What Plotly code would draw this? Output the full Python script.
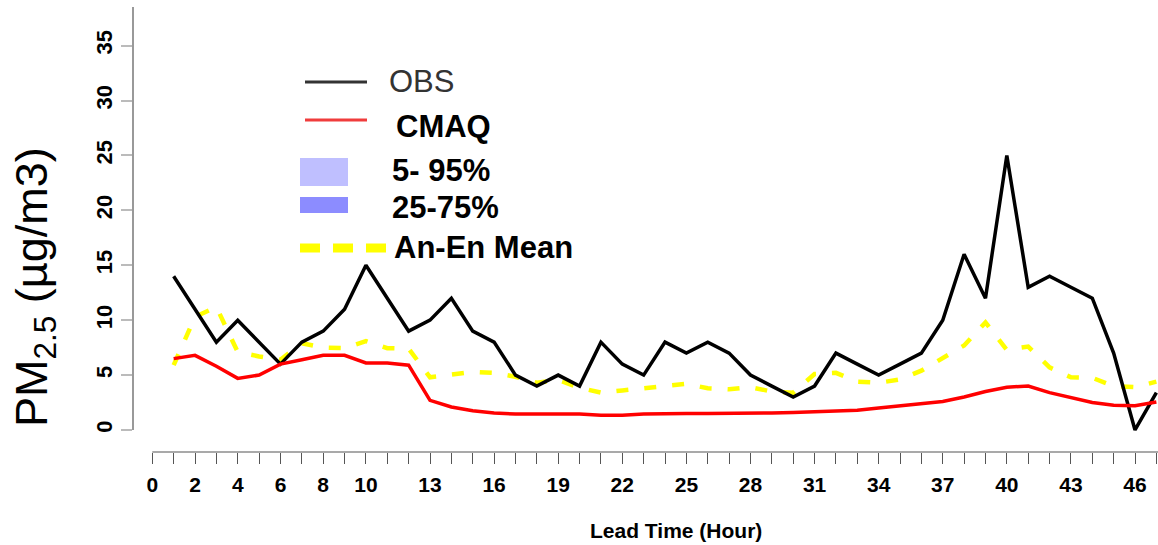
import plotly.graph_objects as go

# ---- data -------------------------------------------------------------
hours = list(range(1, 48))

obs = [14, 11, 8, 10, 8, 6, 8, 9, 11, 15, 12, 9, 10, 12, 9, 8, 5, 4, 5, 4,
       8, 6, 5, 8, 7, 8, 7, 5, 4, 3, 4, 7, 6, 5, 6, 7, 10, 16, 12, 25,
       13, 14, 13, 12, 7, 0, 3.4]

cmaq = [6.5, 6.8, 5.8, 4.7, 5.0, 6.0, 6.4, 6.8, 6.8, 6.1, 6.1, 5.9, 2.7, 2.1,
        1.75, 1.55, 1.45, 1.45, 1.45, 1.45, 1.35, 1.35, 1.45, 1.5, 1.5, 1.5,
        1.5, 1.5, 1.55, 1.6, 1.65, 1.7, 1.8, 2.0, 2.2, 2.4, 2.6, 3.0, 3.5,
        3.9, 4.0, 3.4, 2.95, 2.5, 2.25, 2.2, 2.55]

anen_mean = [5.9, 10.3, 11.2, 7.1, 6.7, 6.4, 7.9, 7.5, 7.45, 8.1, 7.45, 7.4,
             4.8, 5.05, 5.3, 5.2, 4.85, 4.3, 4.55, 3.85, 3.4, 3.6, 3.8, 4.05,
             4.2, 3.8, 3.7, 3.9, 3.5, 3.4, 5.1, 5.2, 4.4, 4.3, 4.6, 5.4, 6.6,
             7.7, 9.8, 7.3, 7.6, 5.7, 4.8, 4.75, 4.0, 3.9, 4.4]

x_minor_ticks = list(range(0, 48))
x_tick_labeled = [0, 2, 4, 6, 8, 10, 13, 16, 19, 22, 25, 28, 31, 34, 37, 40, 43, 46]
y_tick_vals = [0, 5, 10, 15, 20, 25, 30, 35]

legend_labels = ["OBS", "CMAQ", "5- 95%", "25-75%", "An-En Mean"]

# ---- geometry ---------------------------------------------------------
W, H = 1158, 545
ML, MR, MT, MB = 133, 0, 7, 93
X_RANGE = [-0.903, 47.076]
Y_RANGE = [-2.004, 38.52]
FONT = "Liberation Sans, Arial, sans-serif"


def px(x):
    """pixel column -> paper x"""
    return (x - ML) / (W - ML - MR)


def py(y):
    """pixel row -> paper y"""
    return (H - MB - y) / (H - MT - MB)


fig = go.Figure()

fig.add_trace(go.Scatter(x=hours, y=anen_mean, mode="lines", name="An-En Mean",
                         line=dict(color="#FFFF00", width=4.5, dash="12px,16px")))
fig.add_trace(go.Scatter(x=hours, y=obs, mode="lines", name="OBS",
                         line=dict(color="#000000", width=3.5)))
fig.add_trace(go.Scatter(x=hours, y=cmaq, mode="lines", name="CMAQ",
                         line=dict(color="#FF0000", width=3.5)))

shapes = [
    # detached axis lines
    dict(type="line", xref="paper", yref="y", x0=0, x1=0, y0=0, y1=Y_RANGE[1],
         line=dict(color="#777777", width=1.5)),
    dict(type="line", xref="x", yref="paper", x0=0, x1=X_RANGE[1], y0=0, y1=0,
         line=dict(color="#555555", width=1.2)),
    # legend keys
    dict(type="line", xref="paper", yref="paper", x0=px(305), x1=px(367),
         y0=py(82), y1=py(82), line=dict(color="#333333", width=3)),
    dict(type="line", xref="paper", yref="paper", x0=px(305), x1=px(367),
         y0=py(120), y1=py(120), line=dict(color="#F03C3C", width=3)),
    dict(type="rect", xref="paper", yref="paper", x0=px(300), x1=px(348),
         y0=py(186), y1=py(158), fillcolor="#BFBFFF", line=dict(width=0)),
    dict(type="rect", xref="paper", yref="paper", x0=px(300), x1=px(348),
         y0=py(213), y1=py(197), fillcolor="#8C8CFF", line=dict(width=0)),
    dict(type="line", xref="paper", yref="paper", x0=px(300), x1=px(386),
         y0=py(248), y1=py(248),
         line=dict(color="#FFFF00", width=9, dash="20px,13px")),
]

legend_rows = [  # label, left px, centre row px, bold, colour
    (legend_labels[0], 387, 82, False, "#333333"),
    (legend_labels[1], 394, 126, True, "#000000"),
    (legend_labels[2], 390, 170, True, "#000000"),
    (legend_labels[3], 390, 207, True, "#000000"),
    (legend_labels[4], 392, 247, True, "#000000"),
]

annotations = []
for text, lx, ly, bold, col in legend_rows:
    annotations.append(dict(
        text=f"<b>{text}</b>" if bold else text, x=px(lx), y=py(ly),
        xref="paper", yref="paper", xanchor="left", yanchor="middle",
        showarrow=False, font=dict(family=FONT, size=31, color=col)))

annotations.append(dict(
    text="PM<sub>2.5</sub> (µg/m3)", x=px(34), y=py(287), xref="paper",
    yref="paper", xanchor="center", yanchor="middle", textangle=-90,
    showarrow=False, font=dict(family=FONT, size=45, color="#000000")))
annotations.append(dict(
    text="<b>Lead Time (Hour)</b>", x=px(676), y=py(530), xref="paper",
    yref="paper", xanchor="center", yanchor="middle", showarrow=False,
    font=dict(family=FONT, size=21, color="#000000")))

fig.update_layout(
    width=W, height=H,
    margin=dict(l=ML, r=MR, t=MT, b=MB, pad=0),
    paper_bgcolor="white", plot_bgcolor="white",
    showlegend=False,
    shapes=shapes, annotations=annotations,
    xaxis=dict(range=X_RANGE, tickmode="array", tickvals=x_tick_labeled,
               ticktext=[str(v) for v in x_tick_labeled],
               ticks="outside", ticklen=11, tickwidth=1.2,
               tickcolor="#555555", ticklabelstandoff=3,
               minor=dict(tickmode="array", tickvals=x_minor_ticks,
                          ticks="outside", ticklen=11, tickwidth=1.2,
                          tickcolor="#555555", showgrid=False),
               showline=False, showgrid=False, zeroline=False,
               tickfont=dict(family=FONT, size=21, color="#000000",
                             weight="bold")),
    yaxis=dict(range=Y_RANGE, tickmode="array", tickvals=y_tick_vals,
               ticks="outside", ticklen=11, tickwidth=1.5,
               tickcolor="#BBBBBB", showline=False, showgrid=False,
               zeroline=False, tickangle=-90,
               tickfont=dict(family=FONT, size=22, color="#000000",
                             weight="bold")),
)

fig.write_html("out.html")
